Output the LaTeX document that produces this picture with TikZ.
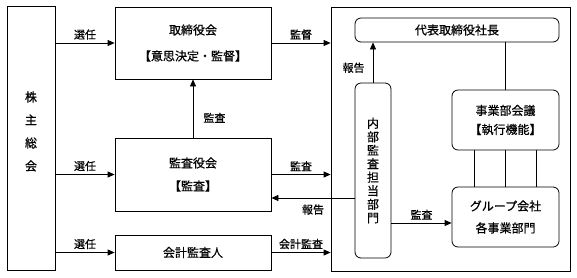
\documentclass[tikz,border=0pt]{standalone}
\usepackage{fontspec}
\newfontfamily\jpfont[FakeBold=0.6]{Noto Sans CJK JP}
\usepackage{tikz}
\usetikzlibrary{positioning,arrows.meta,calc}

\begin{document}
\begin{tikzpicture}[x=1pt, y=-1pt,
    every node/.style={font=\jpfont\fontsize{12}{14}\selectfont},
    box/.style={draw, line width=0.8pt, inner sep=0pt, align=center},
    rbox/.style={box, rounded corners=6pt},
    lbl/.style={font=\jpfont\fontsize{11}{13}\selectfont, inner sep=2pt},
    arr/.style={line width=0.8pt, -{Triangle[length=7pt,width=6pt]}},
    ln/.style={line width=0.8pt}]

\useasboundingbox (0,0) rectangle (577,277);

% Shareholders
\node[box, minimum width=48pt, minimum height=264pt] (soukai) at (31,138) {};
\node[align=center, font=\jpfont\fontsize{12}{23}\selectfont] (soukaitxt) at (31,131.5) {株\\主\\総\\会};

% Board, auditors
\node[box, minimum width=156pt, minimum height=72pt, font=\jpfont\fontsize{12}{26}\selectfont] (torishimari) at (193,43) {取締役会\\【意思決定・監督】};
\node[box, minimum width=156pt, minimum height=73pt, font=\jpfont\fontsize{12}{23}\selectfont] (kansayaku) at (193,174.5) {監査役会\\【監査】};
\node[box, minimum width=156pt, minimum height=35pt] (kaikei) at (193,252.5) {会計監査人};

% Executive side
\node[box, minimum width=239pt, minimum height=264pt] (big) at (450.5,139) {};
\node[rbox, minimum width=204pt, minimum height=24pt] (daihyo) at (457,30) {代表取締役社長};
\node[rbox, minimum width=36pt, minimum height=175pt, font=\jpfont\fontsize{12}{13.5}\selectfont] (naibu) at (373,170.5) {内\\部\\監\\査\\担\\当\\部\\門};
\node[rbox, minimum width=107pt, minimum height=60pt, font=\jpfont\fontsize{12}{19}\selectfont] (jigyo) at (505.5,120) {事業部会議\\【執行機能】};
\node[rbox, minimum width=107pt, minimum height=60pt, font=\jpfont\fontsize{12}{22}\selectfont] (group) at (505.5,217) {グループ会社\\各事業部門};

% Appointments
\draw[arr] (soukai.east |- torishimari.west) -- node[lbl, above=1pt]{選任} (torishimari.west);
\draw[arr] (soukai.east |- kansayaku.west) -- node[lbl, above=1pt]{選任} (kansayaku.west);
\draw[arr] (soukai.east |- kaikei.west) -- node[lbl, above=1pt]{選任} (kaikei.west);

% Audit / supervision
\draw[arr] (kansayaku.north) -- node[lbl, pos=0.34, right=8pt]{監査} (torishimari.south);
\draw[arr] (torishimari.east) -- node[lbl, above=1pt]{監督} (torishimari.east -| big.west);
\draw[arr] (kansayaku.east) -- node[lbl, above=1pt]{監査} (kansayaku.east -| big.west);
\draw[arr] (kaikei.east) -- node[lbl, above=1pt]{会計監査} (kaikei.east -| big.west);

% Internal audit
\coordinate (rep) at ($(naibu.west)+(0,27.5)$);
\draw[arr] (rep) -- node[lbl, below=4pt]{報告} (rep -| kansayaku.east);
\draw[arr] (naibu.north) -- node[lbl, pos=0.37, left=6pt]{報告} (naibu.north |- daihyo.south);
\coordinate (aud) at ($(naibu.east)+(0,52.5)$);
\draw[arr] (aud) -- node[lbl, above=1pt]{監査} (aud -| group.west);

% Executive lines
\draw[ln] (jigyo.north) -- (jigyo.north |- daihyo.south);
\foreach \dx in {-31,0,31} {
    \draw[ln] ($(jigyo.south)+(\dx,0)$) -- ($(group.north)+(\dx,0)$);
}

\end{tikzpicture}
\end{document}
